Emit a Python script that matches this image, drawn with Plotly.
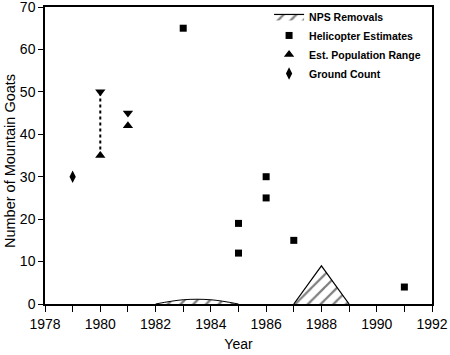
import plotly.graph_objects as go

# Data
removal_years_a = [1982, 1983, 1984, 1985]
removal_vals_a = [0, 1, 1, 0]
removal_years_b = [1987, 1988, 1989]
removal_vals_b = [0, 9, 0]

heli_years = [1983, 1985, 1985, 1986, 1986, 1987, 1991]
heli_vals = [65, 19, 12, 30, 25, 15, 4]

range_years = [1980, 1981]
range_low = [35, 42]
range_high = [50, 45]

ground_years = [1979]
ground_vals = [30]

FONT = "Liberation Sans, Arial, sans-serif"

fig = go.Figure()

pattern = dict(shape="/", size=9, solidity=0.25, fgcolor="black", bgcolor="white")

fig.add_trace(go.Scatter(
    x=removal_years_a, y=removal_vals_a, mode="lines", fill="toself",
    line=dict(color="black", width=1, shape="spline"),
    fillcolor="white", fillpattern=pattern, showlegend=False, name="NPS Removals"))
fig.add_trace(go.Scatter(
    x=removal_years_b, y=removal_vals_b, mode="lines", fill="toself",
    line=dict(color="black", width=1.2),
    fillcolor="white", fillpattern=pattern, name="NPS Removals"))

fig.add_trace(go.Scatter(
    x=heli_years, y=heli_vals, mode="markers",
    marker=dict(symbol="square", size=7, color="black"),
    name="Helicopter Estimates"))

# dotted range line for 1980
fig.add_trace(go.Scatter(
    x=[range_years[0], range_years[0]], y=[range_low[0], range_high[0]],
    mode="lines", line=dict(color="black", width=2, dash="dot"), showlegend=False))
fig.add_trace(go.Scatter(
    x=range_years, y=range_low, mode="markers",
    marker=dict(symbol="triangle-up", size=9, color="black"),
    name="Est. Population Range"))
fig.add_trace(go.Scatter(
    x=range_years, y=range_high, mode="markers",
    marker=dict(symbol="triangle-down", size=9, color="black"),
    showlegend=False))

fig.add_trace(go.Scatter(
    x=ground_years, y=ground_vals, mode="markers",
    marker=dict(symbol="diamond-tall", size=9, color="black"),
    name="Ground Count"))

xt = list(range(1978, 1993))
fig.update_layout(
    width=450, height=355,
    margin=dict(l=45, r=18, t=7, b=51, autoexpand=False),
    paper_bgcolor="white", plot_bgcolor="white",
    font=dict(family=FONT, color="black", size=14),
    legend=dict(x=0.579, y=1.017, xanchor="left", yanchor="top",
                font=dict(family=FONT, size=10.5, color="black", weight="bold"),
                bgcolor="rgba(0,0,0,0)", tracegroupgap=0, itemwidth=30),
    xaxis=dict(range=[1978, 1992], tickvals=xt,
               ticktext=[str(v) if v % 2 == 0 else "" for v in xt],
               ticks="outside", ticklen=6, tickcolor="black",
               showline=True, linecolor="black", linewidth=1.5, mirror=True,
               showgrid=False, zeroline=False, automargin=False,
               ticklabeloverflow="allow",
               title=dict(text="Year", font=dict(size=14), standoff=9),
               tickfont=dict(size=14)),
    yaxis=dict(range=[0, 70], dtick=10,
               ticks="outside", ticklen=5, tickcolor="black",
               showline=True, linecolor="black", linewidth=1.5, mirror=True,
               showgrid=False, zeroline=False, automargin=False,
               ticklabeloverflow="allow",
               tickfont=dict(size=14)),
    annotations=[dict(text="Number of Mountain Goats", textangle=-90,
                      xref="paper", yref="paper", x=-0.0904, y=0.4815,
                      xanchor="center", yanchor="middle", showarrow=False,
                      font=dict(family=FONT, size=14.5, color="black"))],
)

fig.write_html("out.html", config={"displayModeBar": False},
               post_script="document.body.style.margin='0';document.body.style.overflow='hidden';")
